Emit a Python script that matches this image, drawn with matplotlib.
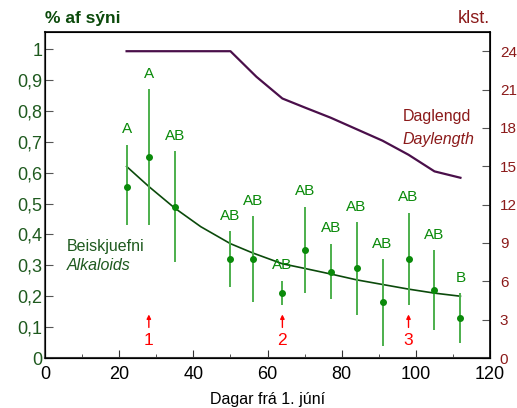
import matplotlib
matplotlib.use("Agg")
import matplotlib.pyplot as plt

plt.rcParams["font.family"] = ["Liberation Sans", "DejaVu Sans"]

# alkaloid measurements (share of sample)
days = [22, 28, 35, 50, 56, 64, 70, 77, 84, 91, 98, 105, 112]
alk = [0.555, 0.65, 0.49, 0.32, 0.32, 0.21, 0.35, 0.28, 0.29, 0.18, 0.32, 0.22, 0.13]
alk_lo = [0.43, 0.43, 0.31, 0.23, 0.18, 0.17, 0.21, 0.19, 0.14, 0.04, 0.17, 0.09, 0.05]
alk_hi = [0.69, 0.87, 0.67, 0.41, 0.46, 0.25, 0.49, 0.37, 0.44, 0.32, 0.47, 0.35, 0.21]
letters = ["A", "A", "AB", "AB", "AB", "AB", "AB", "AB", "AB", "AB", "AB", "AB", "B"]

# fitted trend line
fit_x = [22, 28, 35, 42, 50, 56, 64, 70, 77, 84, 91, 98, 105, 112]
fit_y = [0.62, 0.555, 0.485, 0.425, 0.37, 0.34, 0.305, 0.29, 0.272, 0.253, 0.238, 0.223, 0.21, 0.2]

# daylength (hours)
dl_x = [22, 50, 57, 64, 70, 77, 84, 91, 98, 105, 112]
dl_h = [24, 24, 22, 20.3, 19.6, 18.8, 17.9, 17.0, 15.9, 14.6, 14.1]

# sampling events
evt_x = [28, 64, 98]
evt_lab = ["1", "2", "3"]

green_dk = "#1f5a1f"
green = "#0a8a0a"
green_lt = "#4caf4c"
red_dk = "#8b1a1a"

fig = plt.figure(figsize=(5.17, 4.08), dpi=100)
ax = fig.add_axes([0.087, 0.1225, 0.861, 0.799])
ax2 = ax.twinx()

ax.set_xlim(0, 120)
ax.set_ylim(0, 1.055)
ax2.set_ylim(0, 25.5)

# error bars + points
yerr = [[a - l for a, l in zip(alk, alk_lo)], [h - a for a, h in zip(alk, alk_hi)]]
ax.errorbar(days, alk, yerr=yerr, fmt="o", ms=4, color=green, ecolor=green_lt,
            elinewidth=1.4, capsize=0, zorder=3)
ax.plot(fit_x, fit_y, color="#0b4a0b", lw=1.2, zorder=2)

for x, h, t in zip(days, alk_hi, letters):
    ax.annotate(t, (x, h), xytext=(0, 6), textcoords="offset points",
                ha="center", va="bottom", color=green, fontsize=11)

for x, t in zip(evt_x, evt_lab):
    ax.annotate("", xy=(x, 0.15), xytext=(x, 0.09),
                arrowprops=dict(arrowstyle="-|>", color="red", lw=1.0,
                                mutation_scale=6))
    ax.text(x, 0.058, t, color="red", ha="center", va="center", fontsize=12.5)

ax2.plot(dl_x, dl_h, color="#4a0f4a", lw=1.6)

ax.text(6, 0.36, "Beiskjuefni", color=green_dk, fontsize=11.5, va="center")
ax.text(6, 0.30, "Alkaloids", color=green_dk, fontsize=11.5, va="center", style="italic")
ax2.text(96.5, 18.9, "Daglengd", color=red_dk, fontsize=11.5, va="center")
ax2.text(96.5, 17.1, "Daylength", color=red_dk, fontsize=11.5, va="center", style="italic")

ax.set_xticks(range(0, 121, 20))
ax.set_xticks(range(10, 120, 20), minor=True)
ax.set_yticks([i / 10 for i in range(11)])
ax.set_yticklabels(["0"] + [f"0,{i}" for i in range(1, 10)] + ["1"])
ax2.set_yticks(range(0, 25, 3))

ax.tick_params(axis="x", direction="in", length=6, labelsize=13, pad=6, colors="#333333",
               labelcolor="black")
ax.tick_params(axis="x", which="minor", direction="in", length=3, colors="#333333")
ax.tick_params(axis="y", direction="in", length=6, labelsize=13, colors="#555555",
               labelcolor=green_dk, pad=2)
ax2.tick_params(axis="y", direction="in", length=6, labelsize=11, colors="#555555",
                labelcolor=red_dk, pad=7)

ax.spines["left"].set_color("#555555")
ax.spines["left"].set_linewidth(1.5)
ax.spines["bottom"].set_color("#333333")
ax.spines["bottom"].set_linewidth(1.5)
for s in ["top", "right"]:
    ax2.spines[s].set_linewidth(1.2)

ax.set_xlabel("Dagar frá 1. júní", fontsize=11.5, labelpad=6)
fig.text(0.087, 0.955, "% af sýni", color="#0b4a0b", fontsize=12.5, fontweight="bold",
         ha="left", va="center")
fig.text(0.948, 0.955, "klst.", color=red_dk, fontsize=13, ha="right", va="center")

fig.savefig("out.png", dpi=100, facecolor="white")
